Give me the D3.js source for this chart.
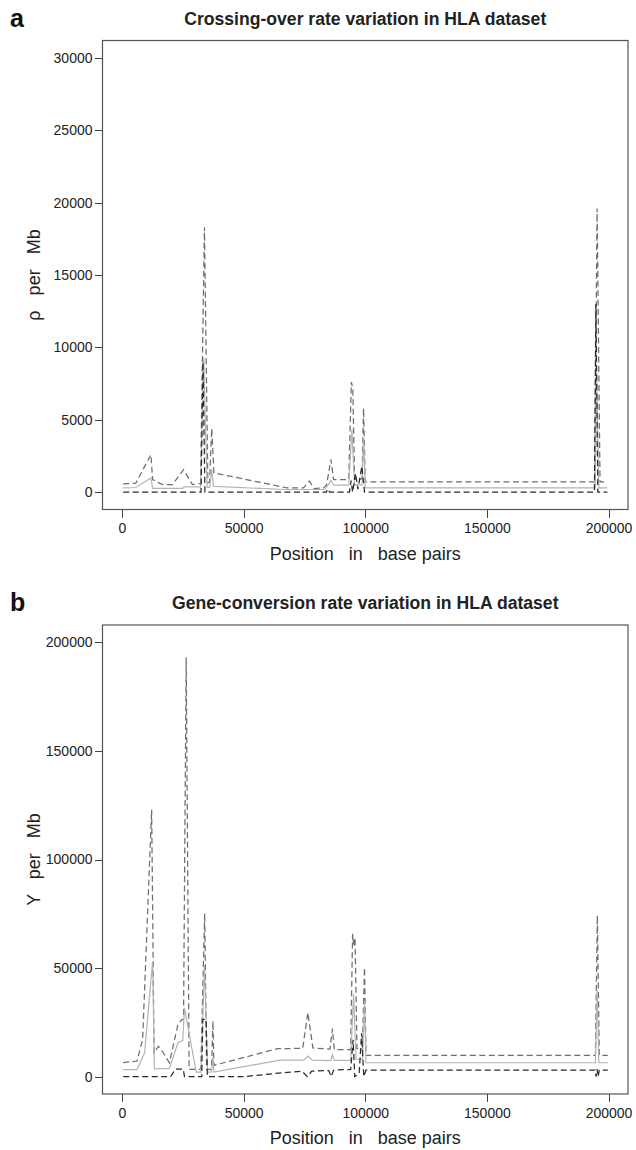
<!doctype html>
<html lang="en">
<head>
    <meta charset="UTF-8">
    <title>Crossing-over and gene-conversion rate variation in HLA dataset</title>
    <style>
        body { margin: 0; background: #fff; }
        .chart { display: block; }
        .axis text { font: 14px "Liberation Sans", Arial, sans-serif; fill: #222; }
        .axis line { stroke: #444; shape-rendering: crispEdges; }
        .axis path { display: none; }
        .box { fill: none; stroke: #555; stroke-width: 1.2; }
        .title { font: bold 17.6px "Liberation Sans", Arial, sans-serif; fill: #222; }
        .tag { font: bold 25px "Liberation Sans", Arial, sans-serif; fill: #111; }
        .lab { font: 18px "Liberation Sans", Arial, sans-serif; fill: #222; white-space: pre; }
        .upper { fill: none; stroke: #6e6e6e; stroke-width: 1.25; stroke-dasharray: 6,3.5; }
        .mid { fill: none; stroke: #b4b4b4; stroke-width: 1.2; }
        .lower { fill: none; stroke: #2a2a2a; stroke-width: 1.25; stroke-dasharray: 6,3.5; }
    </style>
</head>
<body>
<svg class="chart"></svg>

<script src="https://d3js.org/d3.v7.min.js"></script>
<script>
    // ---- panel a: crossing-over rate (rho per Mb) ----
    var coUpperPos = [500, 5700, 11900, 12600, 16700, 20800, 25300, 29000, 32300, 33900, 35300, 36000, 36900, 37800,
        67900, 74600, 77000, 79000, 82800, 84100, 85900, 87000, 93200, 94300, 94900, 95600, 98700, 99300, 100000,
        194300, 195300, 196500, 199500];
    var coUpper = [570, 620, 2590, 860, 520, 520, 1550, 520, 600, 18300, 650, 700, 4400, 1330,
        290, 290, 750, 250, 290, 500, 2250, 860, 860, 7600, 7100, 900, 900, 5800, 700,
        700, 19600, 700, 700];

    var coMidPos = [500, 5700, 11900, 12600, 25000, 25500, 32300, 33600, 35000, 36100, 36900, 37600, 37800,
        67000, 83500, 84300, 85900, 87000, 93200, 94500, 95600, 98700, 99300, 100000,
        194500, 195100, 196000, 199500];
    var coMid = [290, 320, 980, 260, 260, 360, 360, 9300, 330, 330, 1600, 400, 400,
        180, 180, 400, 800, 480, 480, 4300, 500, 500, 3800, 290,
        290, 8500, 290, 290];

    var coLowerPos = [500, 32500, 33300, 34100, 84000, 84600, 85400, 93500, 94200, 94800, 96000, 97000, 98600, 99700,
        194200, 194800, 195600, 199500];
    var coLower = [0, 0, 9000, 0, 0, 220, 0, 0, 800, 0, 1300, 200, 1780, 0,
        0, 13000, 0, 0];

    // ---- panel b: gene-conversion rate (gamma per Mb) ----
    var gcUpperPos = [500, 6200, 8500, 12200, 13200, 15000, 17000, 19500, 23000, 24600, 25300, 26400, 27600, 29600,
        32400, 34000, 34800, 35300, 36800, 37400, 37800, 64000, 74300, 76400, 78500, 85500, 86500, 87300,
        94000, 94800, 95300, 95800, 96600, 98800, 99700, 100300, 194600, 195400, 196200, 199700];
    var gcUpper = [6400, 7200, 17200, 123000, 11000, 14000, 11000, 6400, 24000, 26300, 26300, 193000, 3300, 3300,
        3300, 75200, 3300, 3300, 3300, 25600, 5200, 12900, 13000, 29500, 13200, 12700, 22100, 12500,
        12400, 65800, 60000, 64000, 13000, 12000, 50200, 9800, 9800, 74200, 9800, 9800];

    var gcMidPos = [500, 6200, 9300, 12600, 13300, 19500, 23000, 25000, 25700, 30500, 32500, 33900, 35200,
        36800, 37400, 37800, 65000, 74700, 76400, 78200, 85800, 86500, 87300, 94000, 95200, 96200,
        98900, 99700, 100300, 194600, 195300, 196000, 199700];
    var gcMid = [3200, 3200, 11000, 53200, 3600, 3800, 15600, 16600, 31700, 2100, 2100, 50900, 2100,
        2100, 9000, 2100, 7600, 7600, 9500, 7600, 7400, 10100, 7500, 7500, 38200, 8000,
        8000, 34800, 6400, 6400, 40000, 6400, 6400];

    var gcLowerPos = [500, 20000, 22000, 25200, 25700, 32800, 33200, 34600, 35100, 50000, 68000, 74000, 76200, 78000,
        85000, 86000, 87000, 94000, 95000, 95700, 97500, 98500, 99400, 100300, 194500, 194900, 195300, 195700,
        196200, 199700];
    var gcLower = [0, 0, 3500, 3500, 0, 0, 26400, 26400, 0, 0, 2000, 2500, 0, 2500,
        2800, 0, 3000, 3300, 17000, 0, 1500, 20000, 0, 3000, 3000, 0, 3500, 0,
        3000, 3000];

    var xTicks = [0, 50000, 100000, 150000, 200000];
    var coTicks = [0, 5000, 10000, 15000, 20000, 25000, 30000];
    var gcTicks = [0, 50000, 100000, 150000, 200000];

    var totalWidth = 636, totalHeight = 1150;
    var left = 102.5, right = 628, boxHeight = 469;

    var svg = d3.select(".chart")
        .attr("width", totalWidth)
        .attr("height", totalHeight);

    svg.append("rect").attr("width", totalWidth).attr("height", totalHeight).attr("fill", "#fff");

    function zip(pos, val) {
        return pos.map(function(p, i) { return {x: p, y: val[i]}; });
    }

    function panel(top, tag, title, ylab, yMax, yTicks, series) {
        // R-style 4% padding around the data range
        var x = d3.scaleLinear().domain([-0.04 * 200000, 1.04 * 200000]).range([left, right]);
        var y = d3.scaleLinear().domain([-0.04 * yMax, 1.04 * yMax]).range([top + boxHeight, top]);

        var g = svg.append("g");

        var line = d3.line().x(function(d) { return x(d.x); }).y(function(d) { return y(d.y); });
        series.forEach(function(s) {
            g.append("path").attr("class", s.cls).attr("d", line(zip(s.pos, s.val)));
        });

        g.append("rect").attr("class", "box")
            .attr("x", left).attr("y", top)
            .attr("width", right - left).attr("height", boxHeight);

        g.append("g").attr("class", "axis")
            .attr("transform", "translate(0," + (top + boxHeight) + ")")
            .call(d3.axisBottom(x).tickValues(xTicks).tickFormat(d3.format("d")).tickSize(8).tickPadding(6));

        g.append("g").attr("class", "axis")
            .attr("transform", "translate(" + left + ",0)")
            .call(d3.axisLeft(y).tickValues(yTicks).tickFormat(d3.format("d")).tickSize(8).tickPadding(2));

        // x-axis title
        g.append("text").attr("class", "lab")
            .attr("x", (left + right) / 2).attr("y", top + boxHeight + 50)
            .attr("text-anchor", "middle")
            .text("Position   in   base pairs");

        // y-axis title
        g.append("text").attr("class", "lab")
            .attr("transform", "translate(" + 40 + "," + (top + boxHeight / 2) + ") rotate(-90)")
            .attr("text-anchor", "middle")
            .text(ylab);

        g.append("text").attr("class", "title")
            .attr("x", (left + right) / 2).attr("y", top - 16)
            .attr("text-anchor", "middle")
            .text(title);

        g.append("text").attr("class", "tag")
            .attr("x", 10).attr("y", top - 14)
            .text(tag);
    }

    panel(40.5, "a", "Crossing-over rate variation in HLA dataset", "ρ   per   Mb", 30000, coTicks, [
        {cls: "upper", pos: coUpperPos, val: coUpper},
        {cls: "mid", pos: coMidPos, val: coMid},
        {cls: "lower", pos: coLowerPos, val: coLower}
    ]);

    panel(625, "b", "Gene-conversion rate variation in HLA dataset", "Y   per   Mb", 200000, gcTicks, [
        {cls: "upper", pos: gcUpperPos, val: gcUpper},
        {cls: "mid", pos: gcMidPos, val: gcMid},
        {cls: "lower", pos: gcLowerPos, val: gcLower}
    ]);
</script>
</body>
</html>
